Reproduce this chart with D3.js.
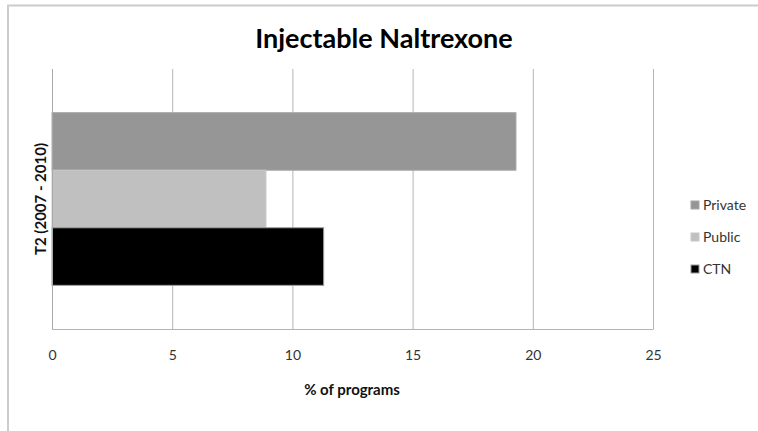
<!DOCTYPE html>
<html>
<head>
<meta charset="utf-8">
<script src="https://cdn.jsdelivr.net/npm/d3@7"></script>
<style>
  body { margin: 0; background: #fff; }
  svg { display: block; }
  text { font-family: Lato, "Open Sans", sans-serif; }
</style>
</head>
<body>
<div id="chart"></div>
<script>
// chart data
var categories = ["T2 (2007 - 2010)"];
var seriesNames = ["Private", "Public", "CTN"];
var seriesValues = [19.3, 8.9, 11.3];
var seriesColors = ["#969696", "#c0c0c0", "#000000"];
var seriesStrokes = ["#a8a8a8", "#c8c8c8", "#9a9a9a"];
var xTicks = [0, 5, 10, 15, 20, 25];

var WIDTH = 758, HEIGHT = 431;
var PLOT = { LEFT: 52, RIGHT: 653, TOP: 69, BOTTOM: 329 };

var svg = d3.select("#chart")
    .append("svg")
    .attr("width", WIDTH)
    .attr("height", HEIGHT);

// outer chart frame (runs off the right and bottom edges)
svg.append("path")
    .attr("d", "M8,431 V5.5 H758")
    .attr("fill", "none")
    .attr("stroke", "#cccccc")
    .attr("stroke-width", 2);

var x = d3.scaleLinear()
    .domain([0, 25])
    .range([PLOT.LEFT, PLOT.RIGHT]);

// one band for the category, with inner band for each series
var y = d3.scaleBand()
    .domain(categories)
    .range([PLOT.TOP, PLOT.BOTTOM])
    .paddingInner(0)
    .paddingOuter(0.253);

var ySeries = d3.scaleBand()
    .domain(seriesNames)
    .range([0, y.bandwidth()]);

// gridlines
svg.append("g")
    .selectAll("line")
    .data(xTicks.slice(1))
    .enter()
    .append("line")
    .attr("x1", function(d) { return x(d) + 0.5; })
    .attr("x2", function(d) { return x(d) + 0.5; })
    .attr("y1", PLOT.TOP)
    .attr("y2", PLOT.BOTTOM)
    .attr("stroke", "#b4b4b4")
    .attr("stroke-width", 1);

// bars
var bars = [];
categories.forEach(function(c) {
    seriesNames.forEach(function(s, i) {
        bars.push({ cat: c, name: s, value: seriesValues[i], color: seriesColors[i], stroke: seriesStrokes[i] });
    });
});

svg.append("g")
    .selectAll("rect")
    .data(bars)
    .enter()
    .append("rect")
    .attr("x", x(0))
    .attr("y", function(d) { return y(d.cat) + ySeries(d.name); })
    .attr("width", function(d) { return x(d.value) - x(0); })
    .attr("height", ySeries.bandwidth())
    .attr("fill", function(d) { return d.color; })
    .attr("stroke", function(d) { return d.stroke; })
    .attr("stroke-width", 1);

// axis lines
svg.append("line")
    .attr("x1", PLOT.LEFT + 0.5).attr("x2", PLOT.LEFT + 0.5)
    .attr("y1", PLOT.TOP).attr("y2", PLOT.BOTTOM + 0.5)
    .attr("stroke", "#a8a8a8");
svg.append("line")
    .attr("x1", PLOT.LEFT).attr("x2", PLOT.RIGHT + 0.5)
    .attr("y1", PLOT.BOTTOM + 0.5).attr("y2", PLOT.BOTTOM + 0.5)
    .attr("stroke", "#b4b4b4");

// x tick labels
var xAxis = d3.axisBottom(x)
    .tickValues(xTicks)
    .tickSize(0)
    .tickPadding(21);

var gx = svg.append("g")
    .attr("transform", "translate(0," + PLOT.BOTTOM + ")")
    .call(xAxis);
gx.select(".domain").remove();
gx.selectAll("text")
    .style("font-family", "Lato, 'Open Sans', sans-serif")
    .style("font-size", "14px")
    .attr("fill", "#333");

// y category label
svg.append("g")
    .selectAll("text")
    .data(categories)
    .enter()
    .append("text")
    .attr("transform", function(d) { return "translate(46," + (y(d) + y.bandwidth() / 2) + ") rotate(-90)"; })
    .attr("text-anchor", "middle")
    .style("font-size", "15px")
    .style("font-weight", "bold")
    .attr("fill", "#111")
    .text(function(d) { return d; });

// title
svg.append("text")
    .attr("x", 384)
    .attr("y", 48)
    .attr("text-anchor", "middle")
    .style("font-size", "27px")
    .style("font-weight", "bold")
    .attr("fill", "#000")
    .text("Injectable Naltrexone");

// x axis title
svg.append("text")
    .attr("x", 352)
    .attr("y", 395)
    .attr("text-anchor", "middle")
    .style("font-size", "15px")
    .style("font-weight", "bold")
    .attr("fill", "#111")
    .text("% of programs");

// legend
var legend = svg.append("g")
    .selectAll("g")
    .data(seriesNames)
    .enter()
    .append("g")
    .attr("transform", function(d, i) { return "translate(691," + (201 + i * 32) + ")"; });

legend.append("rect")
    .attr("width", 8)
    .attr("height", 8)
    .attr("fill", function(d, i) { return seriesColors[i]; })
    .attr("stroke", function(d, i) { return seriesStrokes[i]; })
    .attr("stroke-width", 1);

legend.append("text")
    .attr("x", 12)
    .attr("y", 9)
    .style("font-size", "14px")
    .attr("fill", "#333")
    .text(function(d) { return d; });
</script>
</body>
</html>
